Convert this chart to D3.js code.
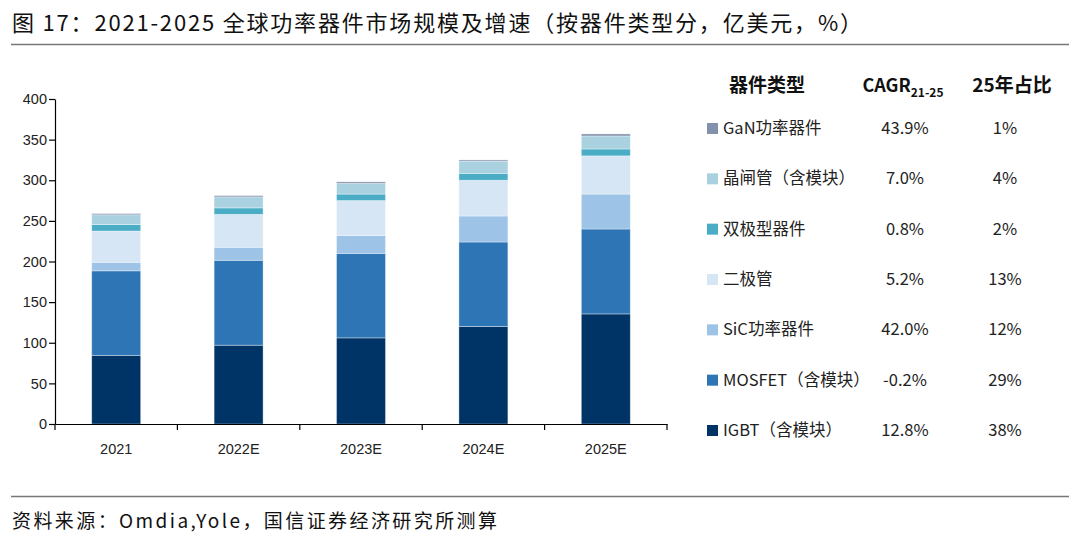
<!DOCTYPE html>
<html>
<head>
<meta charset="utf-8">
<script src="https://cdn.jsdelivr.net/npm/d3@7"></script>
<style>
  body { margin: 0; background: #fff; }
  svg { display: block; }
</style>
</head>
<body>
<svg id="chart"></svg>
<script>
// categories and series (亿美元)
const years = ["2021", "2022E", "2023E", "2024E", "2025E"];
const seriesNames = ["IGBT（含模块）", "MOSFET（含模块）", "SiC功率器件", "二极管", "双极型器件", "晶闸管（含模块）", "GaN功率器件"];
const igbt      = [84.5, 97, 106, 120, 135.5];
const mosfet    = [104, 104.5, 104, 104, 104.5];
const sic       = [10.5, 16, 22, 32, 43];
const diode     = [38.5, 40.5, 43, 44, 47];
const bipolar   = [8, 8, 8, 8.5, 8.5];
const thyristor = [12, 13.5, 13, 15, 16];
const gan       = [1.5, 1.6, 2, 1.5, 2.5];
const cagr      = ["12.8%", "-0.2%", "42.0%", "5.2%", "0.8%", "7.0%", "43.9%"];
const share25   = ["38%", "29%", "12%", "13%", "2%", "4%", "1%"];
const yTicks    = [0, 50, 100, 150, 200, 250, 300, 350, 400];

const colors = ["#003366", "#2E75B6", "#9DC3E6", "#D6E6F5", "#4BACC6", "#A9D1E0", "#8391AC"];
const keys = ["igbt", "mosfet", "sic", "diode", "bipolar", "thyristor", "gan"];
const cols = [igbt, mosfet, sic, diode, bipolar, thyristor, gan];

const table = years.map((y, i) => {
    const row = { year: y };
    keys.forEach((k, j) => row[k] = cols[j][i]);
    return row;
});

const width = 1080, height = 545;
const svg = d3.select("#chart").attr("width", width).attr("height", height);

const cjk = "'Noto Sans CJK SC', 'Noto Sans', sans-serif";

// title + rules
svg.append("text")
    .attr("x", 12).attr("y", 31)
    .attr("font-family", cjk).attr("font-size", 22).attr("fill", "#111")
    .attr("textLength", 850).attr("lengthAdjust", "spacing")
    .text("图 17：2021-2025 全球功率器件市场规模及增速（按器件类型分，亿美元，%）");
svg.append("line").attr("x1", 11).attr("x2", 1069).attr("y1", 44.5).attr("y2", 44.5)
    .attr("stroke", "#777").attr("stroke-width", 1.5);
svg.append("line").attr("x1", 11).attr("x2", 1069).attr("y1", 496.5).attr("y2", 496.5)
    .attr("stroke", "#777").attr("stroke-width", 1.5);
svg.append("text")
    .attr("x", 12).attr("y", 528)
    .attr("font-family", cjk).attr("font-size", 19).attr("fill", "#111")
    .attr("textLength", 485).attr("lengthAdjust", "spacing")
    .text("资料来源：Omdia,Yole，国信证券经济研究所测算");

// scales
const x = d3.scaleBand().domain(years).range([55, 667]).paddingInner(0.6).paddingOuter(0.3);
const y = d3.scaleLinear().domain([0, 400]).range([424, 99]);

const stack = d3.stack().keys(keys)(table);

svg.append("g").selectAll("g")
    .data(stack)
    .join("g")
    .attr("fill", (d, i) => colors[i])
    .selectAll("rect")
    .data(d => d)
    .join("rect")
    .attr("x", d => x(d.data.year))
    .attr("width", x.bandwidth())
    .attr("y", d => y(d[1]))
    .attr("height", d => y(d[0]) - y(d[1]))
    .attr("stroke", "#fff").attr("stroke-opacity", 0.45).attr("stroke-width", 0.8);

// axes
const yAxis = svg.append("g")
    .attr("transform", "translate(55,0)")
    .call(d3.axisLeft(y).tickValues(yTicks).tickSize(6).tickSizeOuter(0));
const xAxis = svg.append("g")
    .attr("transform", "translate(0,424)")
    .call(d3.axisBottom(x).tickSize(0).tickSizeOuter(0));
// category boundary ticks
const bounds = [55].concat(years.map(yr => x(yr) + x.bandwidth() / 2 + x.step() / 2));
svg.append("g").selectAll("line").data(bounds).join("line")
    .attr("x1", d => d).attr("x2", d => d).attr("y1", 424).attr("y2", 430)
    .attr("stroke", "#000").attr("stroke-width", 1.2);

[yAxis, xAxis].forEach(a => {
    a.select(".domain").attr("stroke", "#000").attr("stroke-width", 1.2);
    a.selectAll(".tick line").attr("stroke", "#000").attr("stroke-width", 1.2);
    a.selectAll("text").attr("font-family", "'Liberation Sans', Arial, sans-serif")
        .attr("font-size", 14.5).attr("fill", "#222");
});
yAxis.selectAll("text").attr("x", -8);
xAxis.selectAll("text").attr("dy", "1.85em");

// legend table
const head = svg.append("g").attr("font-family", cjk).attr("font-weight", "bold")
    .attr("font-size", 19).attr("fill", "#111").attr("text-anchor", "middle");
head.append("text").attr("x", 767).attr("y", 92).text("器件类型");
const cg = head.append("text").attr("x", 903).attr("y", 92);
cg.append("tspan").attr("font-size", 18).text("CAGR");
cg.append("tspan").attr("font-size", 12).attr("dy", 5).text("21-25");
head.append("text").attr("x", 1012).attr("y", 92).text("25年占比");

const order = d3.range(seriesNames.length).reverse();
const rowY = d3.scalePoint().domain(order).range([128, 430]);

const rows = svg.append("g").selectAll("g").data(order).join("g")
    .attr("transform", d => `translate(0,${rowY(d)})`)
    .attr("font-family", cjk).attr("font-size", 16.5).attr("fill", "#222");
rows.append("rect").attr("x", 707).attr("y", -5).attr("width", 11).attr("height", 11)
    .attr("fill", d => colors[d]);
rows.append("text").attr("x", 723).attr("dy", "0.36em").text(d => seriesNames[d]);
rows.append("text").attr("x", 905).attr("dy", "0.36em").attr("text-anchor", "middle").text(d => cagr[d]);
rows.append("text").attr("x", 1005).attr("dy", "0.36em").attr("text-anchor", "middle").text(d => share25[d]);
</script>
</body>
</html>
